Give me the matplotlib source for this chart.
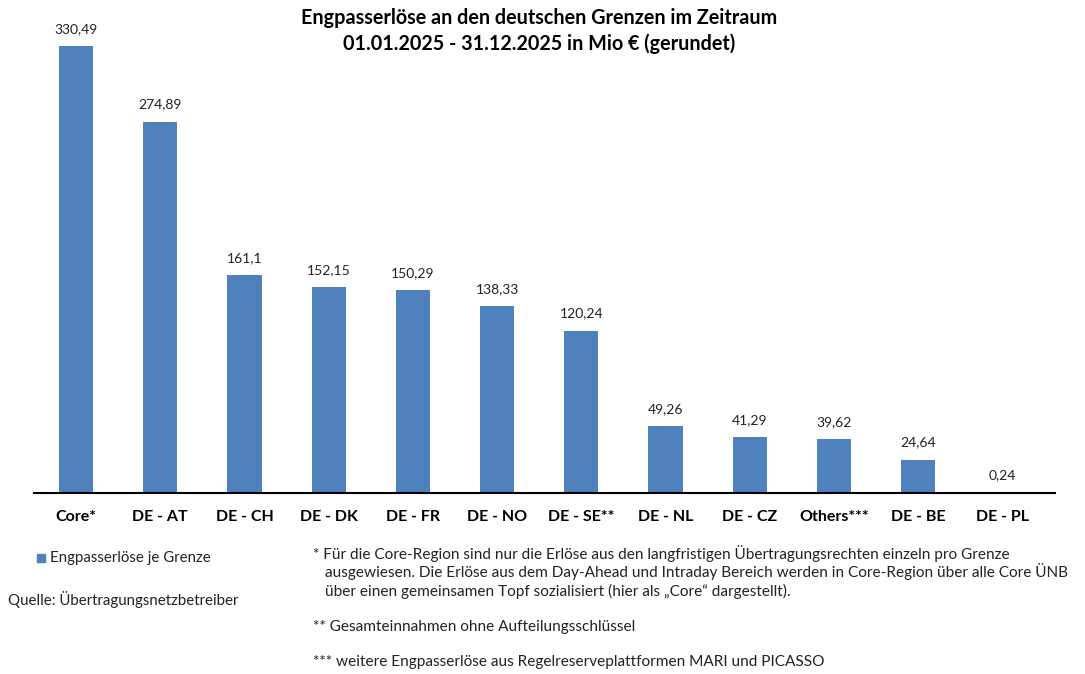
import matplotlib
matplotlib.use("Agg")
import matplotlib.pyplot as plt
from matplotlib.patches import Rectangle

categories = ["Core*", "DE - AT", "DE - CH", "DE - DK", "DE - FR", "DE - NO",
              "DE - SE**", "DE - NL", "DE - CZ", "Others***", "DE - BE", "DE - PL"]
values = [330.49, 274.89, 161.1, 152.15, 150.29, 138.33, 120.24, 49.26, 41.29, 39.62, 24.64, 0.24]
labels = ["330,49", "274,89", "161,1", "152,15", "150,29", "138,33", "120,24",
          "49,26", "41,29", "39,62", "24,64", "0,24"]

W, H = 1085, 674
fig = plt.figure(figsize=(W/100, H/100), dpi=100)
fam = ["Lato", "DejaVu Sans"]
ax = fig.add_axes([34/W, (H-493)/H, (1055-34)/W, (493-20)/H])
color = "#4F81BD"
x = list(range(len(categories)))
ax.bar(x, values, width=0.404, color=color)
ax.set_xlim(-0.5, 11.626)
ax.set_ylim(0, 350)
for xi, v, l in zip(x, values, labels):
    ax.annotate(l, (xi, v), xytext=(0, 8), textcoords="offset points",
                ha="center", va="bottom", fontsize=10, family=fam, color="#222222")
for s in ["top", "right", "left"]:
    ax.spines[s].set_visible(False)
ax.spines["bottom"].set_linewidth(1.5)
ax.set_yticks([])
ax.set_xticks(x)
ax.set_xticklabels(categories, fontsize=11.5, fontweight="bold", family=fam)
ax.tick_params(axis="x", length=0, pad=12)

fig.text(539/W, 1-18/H, "Engpasserlöse an den deutschen Grenzen im Zeitraum", ha="center",
         va="center", fontsize=14.2, fontweight="bold", family=fam)
fig.text(539/W, 1-44/H, "01.01.2025 - 31.12.2025 in Mio € (gerundet)", ha="center",
         va="center", fontsize=14.2, fontweight="bold", family=fam)

fig.patches.append(Rectangle((37/W, 1-562/H), 8/W, 8/H, transform=fig.transFigure,
                             color=color, figure=fig))
fig.text(50/W, 1-558/H, "Engpasserlöse je Grenze", ha="left", va="center",
         fontsize=10.8, family=fam, color="#222222")
fig.text(8/W, 1-600/H, "Quelle: Übertragungsnetzbetreiber", ha="left", va="center",
         fontsize=10.8, family=fam, color="#222222")

lines = [
    (313, 553, "* Für die Core-Region sind nur die Erlöse aus den langfristigen Übertragungsrechten einzeln pro Grenze"),
    (325, 572, "ausgewiesen. Die Erlöse aus dem Day-Ahead und Intraday Bereich werden in Core-Region über alle Core ÜNB"),
    (325, 591, "über einen gemeinsamen Topf sozialisiert (hier als „Core“ dargestellt)."),
    (313, 627, "** Gesamteinnahmen ohne Aufteilungsschlüssel"),
    (313, 662, "*** weitere Engpasserlöse aus Regelreserveplattformen MARI und PICASSO"),
]
for lx, ly, t in lines:
    fig.text(lx/W, 1-ly/H, t, ha="left", va="center", fontsize=11.1, family=fam, color="#222222")

fig.savefig("out.png", dpi=100, facecolor="white")
